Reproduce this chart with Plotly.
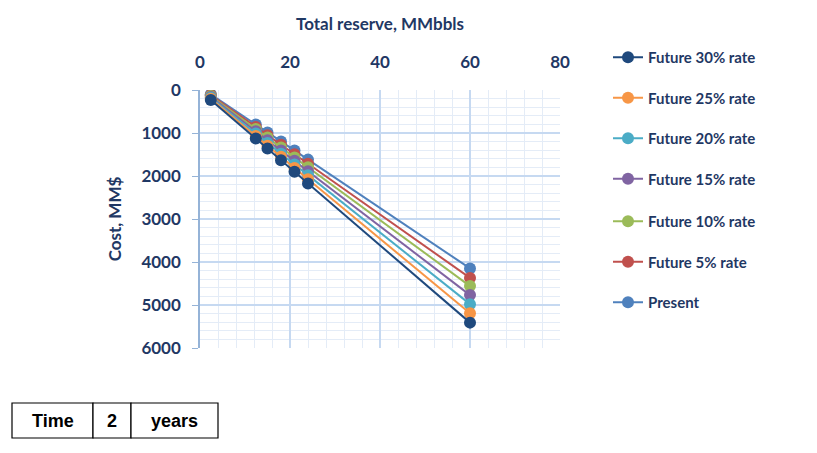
import plotly.graph_objects as go

reserve = [2.4, 12.4, 15, 18, 21, 24, 60]
present = [100, 803, 986, 1197, 1408, 1619, 4150]
future_5 = [120, 858, 1050, 1271, 1493, 1714, 4370]
future_10 = [140, 907, 1106, 1336, 1567, 1797, 4560]
future_15 = [160, 960, 1168, 1408, 1648, 1888, 4770]
future_20 = [180, 1013, 1230, 1480, 1730, 1980, 4980]
future_25 = [205, 1070, 1295, 1555, 1815, 2075, 5190]
future_30 = [230, 1129, 1363, 1633, 1902, 2172, 5410]

series_names = ["Present", "Future 5% rate", "Future 10% rate", "Future 15% rate",
                "Future 20% rate", "Future 25% rate", "Future 30% rate"]
series_values = [present, future_5, future_10, future_15, future_20, future_25, future_30]
colors = ["#4F81BD", "#C0504D", "#9BBB59", "#8064A2", "#4BACC6", "#F79646", "#1F497D"]

table_cells = ["Time", "2", "years"]

x_title = "Total reserve, MMbbls"
y_title = "Cost, MM$"

font_family = "Lato, 'Open Sans', sans-serif"
text_color = "#1F3864"

OFF = 8
W, H = 817 - OFF, 453 - OFF
plot_left, plot_right, plot_top, plot_bottom = 200, 560, 90, 348
pl = plot_left - OFF
pt = plot_top - OFF
pr = W - (plot_right - OFF)
pb = H - (plot_bottom - OFF)
pw, ph = plot_right - plot_left, plot_bottom - plot_top

def px_x(v):
    return (v - plot_left) / pw

def px_y(v):
    return (plot_bottom - v) / ph

fig = go.Figure()
n = len(series_names)
for i, (name, vals) in enumerate(zip(series_names, series_values)):
    rank = n - i  # 30% first in legend
    fig.add_trace(go.Scatter(
        x=reserve, y=vals, name=name, mode="lines+markers",
        legendgroup=name, legendrank=rank,
        legend="legend" if rank <= 4 else "legend2",
        line=dict(color=colors[i], width=2),
        marker=dict(color=colors[i], size=12, line=dict(width=0)),
    ))

legend_common = dict(
    xanchor="left", yanchor="top",
    traceorder="grouped", tracegroupgap=18,
    font=dict(size=15, color=text_color, weight="bold"),
    bgcolor="rgba(0,0,0,0)",
)

fig.update_layout(
    width=W, height=H,
    margin=dict(l=pl, r=pr, t=pt, b=pb, autoexpand=False),
    paper_bgcolor="white", plot_bgcolor="white",
    font=dict(family=font_family, color=text_color, size=15),
    showlegend=True,
    legend=dict(x=px_x(608), y=px_y(41), **legend_common),
    legend2=dict(x=px_x(608), y=px_y(205), **legend_common),
    xaxis=dict(
        side="top", range=[0, 80], dtick=20, tick0=0, automargin=False,
        showgrid=True, gridcolor="#C6D9F1", gridwidth=1.5,
        minor=dict(dtick=4, showgrid=True, gridcolor="#E4ECF7", gridwidth=1),
        zeroline=False, showline=False,
        ticks="", ticklabelstandoff=18,
        tickfont=dict(size=17, weight="bold", color=text_color),
        title=dict(text=x_title, font=dict(size=17, weight="bold", color=text_color), standoff=15),
    ),
    yaxis=dict(
        range=[6000, 0], dtick=1000, tick0=0, automargin=False,
        showgrid=True, gridcolor="#C6D9F1", gridwidth=1.5,
        minor=dict(dtick=200, showgrid=True, gridcolor="#E4ECF7", gridwidth=1),
        zeroline=False, showline=True, linecolor="#95B3D7", linewidth=1.5,
        ticks="outside", ticklen=6, tickcolor="#95B3D7", ticklabelstandoff=8,
        tickfont=dict(size=17, weight="bold", color=text_color),
        title=dict(text=y_title, font=dict(size=17, weight="bold", color=text_color), standoff=15),
    ),
)

edges = [12, 93, 131, 218]
top, bottom = 403, 438
for i, txt in enumerate(table_cells):
    fig.add_shape(type="rect", xref="paper", yref="paper",
                  x0=px_x(edges[i]), x1=px_x(edges[i + 1]),
                  y0=px_y(bottom), y1=px_y(top),
                  line=dict(color="black", width=1.2), fillcolor="white")
    fig.add_annotation(xref="paper", yref="paper",
                       x=px_x((edges[i] + edges[i + 1]) / 2), y=px_y((top + bottom) / 2),
                       text=txt, showarrow=False,
                       font=dict(family="Liberation Sans, Arial", size=18, color="black", weight="bold"),
                       xanchor="center", yanchor="middle")

fig.write_html("out.html")
